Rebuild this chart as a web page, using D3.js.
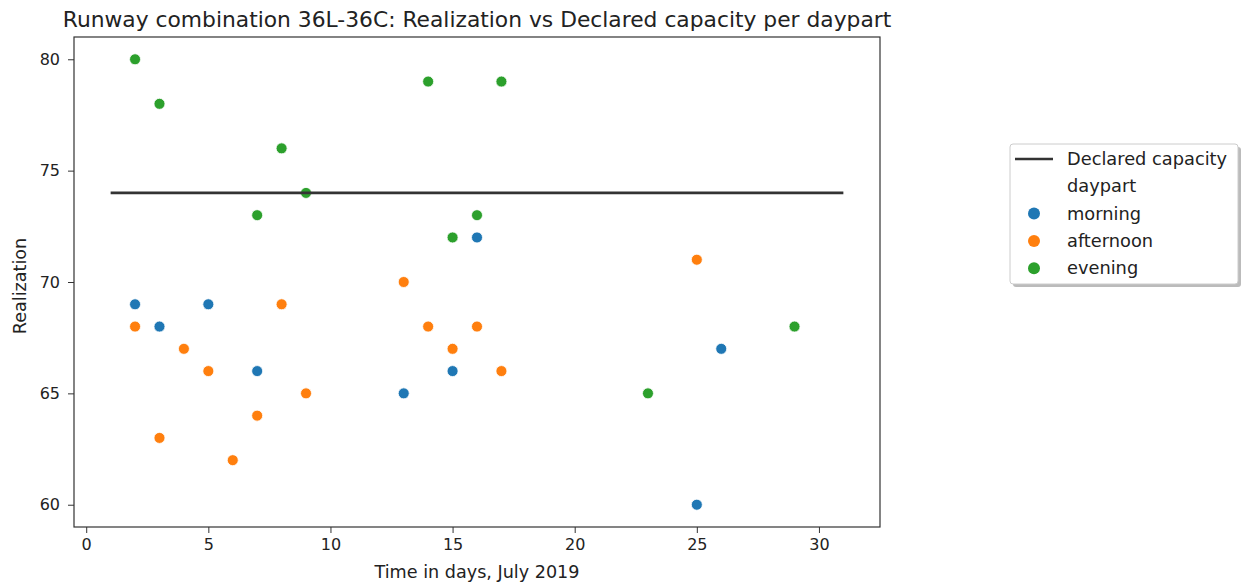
<!DOCTYPE html>
<html>
<head>
<meta charset="utf-8">
<script src="https://cdn.jsdelivr.net/npm/d3@7"></script>
<style>
    body { margin: 0; background: #fff; }
    svg { font-family: "DejaVu Sans", sans-serif; }
</style>
</head>
<body>
<div id="scatter"></div>
<script>
// data
var morningDays = [2, 3, 5, 7, 13, 15, 16, 25, 26];
var morningVals = [69, 68, 69, 66, 65, 66, 72, 60, 67];
var afternoonDays = [2, 3, 4, 5, 6, 7, 8, 9, 13, 14, 15, 16, 17, 25];
var afternoonVals = [68, 63, 67, 66, 62, 64, 69, 65, 70, 68, 67, 68, 66, 71];
var eveningDays = [2, 3, 7, 8, 9, 14, 15, 16, 17, 23, 29];
var eveningVals = [80, 78, 73, 76, 74, 79, 72, 73, 79, 65, 68];
var declaredDays = [1, 31];
var declaredCapacity = 74;
var xTicks = [0, 5, 10, 15, 20, 25, 30];
var yTicks = [60, 65, 70, 75, 80];
var dayparts = ["morning", "afternoon", "evening"];
var colors = ["#1f77b4", "#ff7f0e", "#2ca02c"];

var svgWidth = 1241;
var svgHeight = 584;
var margin = { top: 37, right: 361, bottom: 57, left: 74 };
var chart_width = svgWidth - margin.left - margin.right;
var chart_height = svgHeight - margin.top - margin.bottom;

var svg = d3.select("#scatter")
    .append("svg")
    .attr("width", svgWidth)
    .attr("height", svgHeight);

var chart = svg.append("g")
    .attr("transform", `translate(${margin.left}, ${margin.top})`);

var xScale = d3.scaleLinear().domain([-0.5, 32.5]).range([0, chart_width]);
var yScale = d3.scaleLinear().domain([59, 81]).range([chart_height, 0]);

// axes
var bottomAxis = d3.axisBottom(xScale).tickValues(xTicks).tickSize(6).tickPadding(6);
var leftAxis = d3.axisLeft(yScale).tickValues(yTicks).tickSize(6).tickPadding(8);

var xAxis = chart.append("g")
    .attr("transform", `translate(0, ${chart_height})`)
    .call(bottomAxis);
var yAxis = chart.append("g").call(leftAxis);

[xAxis, yAxis].forEach(function(ax) {
    ax.select(".domain").remove();
    ax.selectAll("text").attr("font-size", 16).attr("fill", "#222").attr("font-family", "DejaVu Sans");
    ax.selectAll("line").attr("stroke", "#333").attr("stroke-width", 1);
});

// points
var series = [
    { name: "morning", days: morningDays, vals: morningVals },
    { name: "afternoon", days: afternoonDays, vals: afternoonVals },
    { name: "evening", days: eveningDays, vals: eveningVals }
];

series.forEach(function(s, i) {
    var pts = s.days.map((d, j) => ({ x: d, y: s.vals[j] }));
    chart.append("g")
        .selectAll("circle")
        .data(pts)
        .enter()
        .append("circle")
        .attr("cx", d => xScale(d.x))
        .attr("cy", d => yScale(d.y))
        .attr("r", 5.5)
        .attr("fill", colors[i])
        .attr("stroke", "#fff")
        .attr("stroke-width", 0.8);
});

// declared capacity line (drawn above points)
var line = d3.line().x(d => xScale(d)).y(() => yScale(declaredCapacity));
chart.append("path")
    .datum(declaredDays)
    .attr("d", line)
    .attr("fill", "none")
    .attr("stroke", "#333")
    .attr("stroke-width", 2.6);

// frame
chart.append("rect")
    .attr("width", chart_width)
    .attr("height", chart_height)
    .attr("fill", "none")
    .attr("stroke", "#333")
    .attr("stroke-width", 1.2);

// labels
svg.append("text")
    .attr("x", margin.left + chart_width / 2)
    .attr("y", 27)
    .attr("text-anchor", "middle")
    .attr("font-size", 21.8)
    .attr("fill", "#222")
    .text("Runway combination 36L-36C: Realization vs Declared capacity per daypart");

svg.append("text")
    .attr("x", margin.left + chart_width / 2)
    .attr("y", 578)
    .attr("text-anchor", "middle")
    .attr("font-size", 17.6)
    .attr("fill", "#222")
    .text("Time in days, July 2019");

svg.append("text")
    .attr("transform", `translate(26, ${margin.top + chart_height / 2 + 4}) rotate(-90)`)
    .attr("text-anchor", "middle")
    .attr("font-size", 17.6)
    .attr("fill", "#222")
    .text("Realization");

// legend
var legend = svg.append("g").attr("transform", "translate(1010, 144)");
legend.append("rect")
    .attr("x", 3).attr("y", 3)
    .attr("width", 228).attr("height", 140)
    .attr("rx", 3)
    .attr("fill", "#bbb");
legend.append("rect")
    .attr("width", 228).attr("height", 140)
    .attr("rx", 3)
    .attr("fill", "#fff")
    .attr("stroke", "#ccc");

var rowH = 27.3;
legend.append("line")
    .attr("x1", 5).attr("x2", 43)
    .attr("y1", 15).attr("y2", 15)
    .attr("stroke", "#333").attr("stroke-width", 2.6);

var labels = ["Declared capacity", "daypart"].concat(dayparts);
legend.selectAll("text.lab")
    .data(labels)
    .enter()
    .append("text")
    .attr("class", "lab")
    .attr("x", 57)
    .attr("y", (d, i) => 15 + i * rowH + 6)
    .attr("font-size", 17.8)
    .attr("fill", "#222")
    .text(d => d);

legend.selectAll("circle")
    .data(dayparts)
    .enter()
    .append("circle")
    .attr("cx", 24)
    .attr("cy", (d, i) => 15 + (i + 2) * rowH)
    .attr("r", 6)
    .attr("fill", (d, i) => colors[i]);
</script>
</body>
</html>
